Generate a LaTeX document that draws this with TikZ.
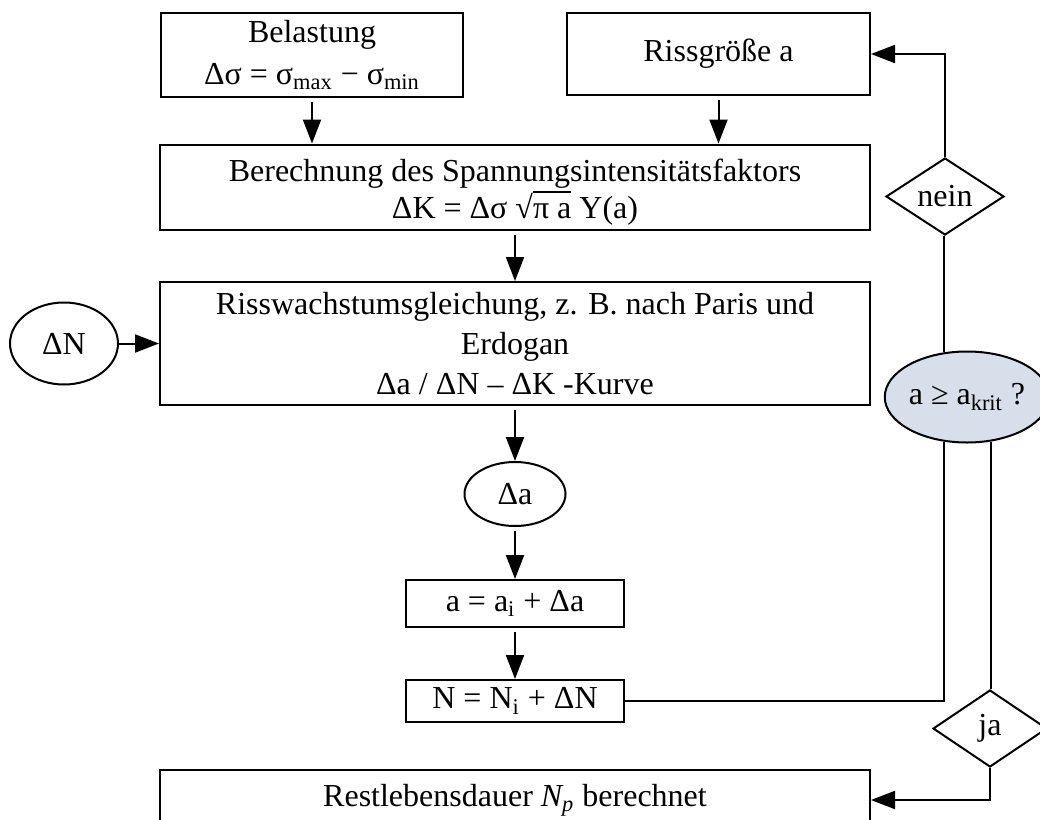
\documentclass[tikz,border=0pt]{standalone}
\usepackage{fontspec}
\setmainfont{Liberation Serif}
\usetikzlibrary{shapes.geometric,arrows.meta,backgrounds}
\definecolor{critfill}{RGB}{214,223,234}
\newcommand\wurzel[1]{√\setbox0\hbox{#1}\rlap{\rule[0.79em]{\wd0}{0.05em}}\box0\relax}
\tikzset{
  box/.style={draw, line width=1pt, rectangle, align=center, inner sep=0pt},
  oval/.style={draw, line width=1pt, ellipse, inner sep=0pt},
  decide/.style={draw, line width=1pt, diamond, aspect=1.5, inner sep=0pt},
  flow/.style={line width=1pt, -{Triangle[length=12pt,width=9pt]}},
  down/.style={flow, shorten <=2pt},
  link/.style={line width=1pt}
}
\begin{document}
\begin{tikzpicture}[x=0.5pt, y=-0.5pt, font=\fontsize{16}{20}\selectfont]
\useasboundingbox (0,0) rectangle (1040,820);
% boxes
\node[box, minimum width=151pt, minimum height=42pt] (belast) at (312,55)
  {Belastung\\[1pt]Δσ = σ\textsubscript{max} − σ\textsubscript{min}};
\node[box, minimum width=151.5pt, minimum height=41pt] (riss) at (718.5,54) {Rissgröße a};
\node[box, minimum width=355pt, minimum height=42.5pt] (berech) at (515,187)
  {\rule{0pt}{16pt}Berechnung des Spannungsintensitätsfaktors\\[-1.5pt]ΔK = Δσ \wurzel{π a} Y(a)};
\node[box, minimum width=355pt, minimum height=61.5pt] (wachs) at (515,343.5)
  {Risswachstumsgleichung, z. B. nach Paris und\\Erdogan\\Δa / ΔN – ΔK -Kurve};
\node[oval, minimum width=54pt, minimum height=41pt] (dN) at (64,343.5) {ΔN};
\node[oval, minimum width=50.5pt, minimum height=32pt] (dA) at (515,494) {Δa};
\node[box, minimum width=109pt, minimum height=23.5pt] (abox) at (515,603.5)
  {a = a\textsubscript{i} + Δa};
\node[box, minimum width=109pt, minimum height=21pt] (nbox) at (515,701)
  {N = N\textsubscript{i} + ΔN};
\node[box, minimum width=355pt, minimum height=30pt] (rest) at (515,800)
  {Restlebensdauer \textit{N\textsubscript{p}} berechnet};
% decision
\node[oval, fill=critfill, minimum width=75pt, minimum height=45.5pt] (krit) at (967,397)
  {a ≥ a\textsubscript{krit} ?};
\node[decide, minimum width=59pt, minimum height=38.5pt] (nein) at (945,196.5) {nein};
\node[decide, minimum width=57pt, minimum height=38.5pt] (ja) at (990,728.5) {ja};
% connectors
\begin{scope}[on background layer]
\draw[down] (belast.south) -- (belast.south |- berech.north);
\draw[down] (riss.south) -- (riss.south |- berech.north);
\draw[down] (berech) -- (wachs);
\draw[flow] (dN) -- (wachs);
\draw[down] (wachs) -- (dA);
\draw[down] (dA) -- (abox);
\draw[down] (abox) -- (nbox);
\draw[link] (nbox.east) -- (nbox.east -| krit.243) -- (krit.243);
\draw[link] (krit.117) -- (krit.117 |- nein.south);
\draw[flow] (nein.north) -- (nein.north |- riss.east) -- (riss.east);
\draw[link] (krit.298) -- (krit.298 |- ja.north);
\draw[flow] (ja.south) -- (ja.south |- rest.east) -- (rest.east);
\end{scope}
\end{tikzpicture}
\end{document}
